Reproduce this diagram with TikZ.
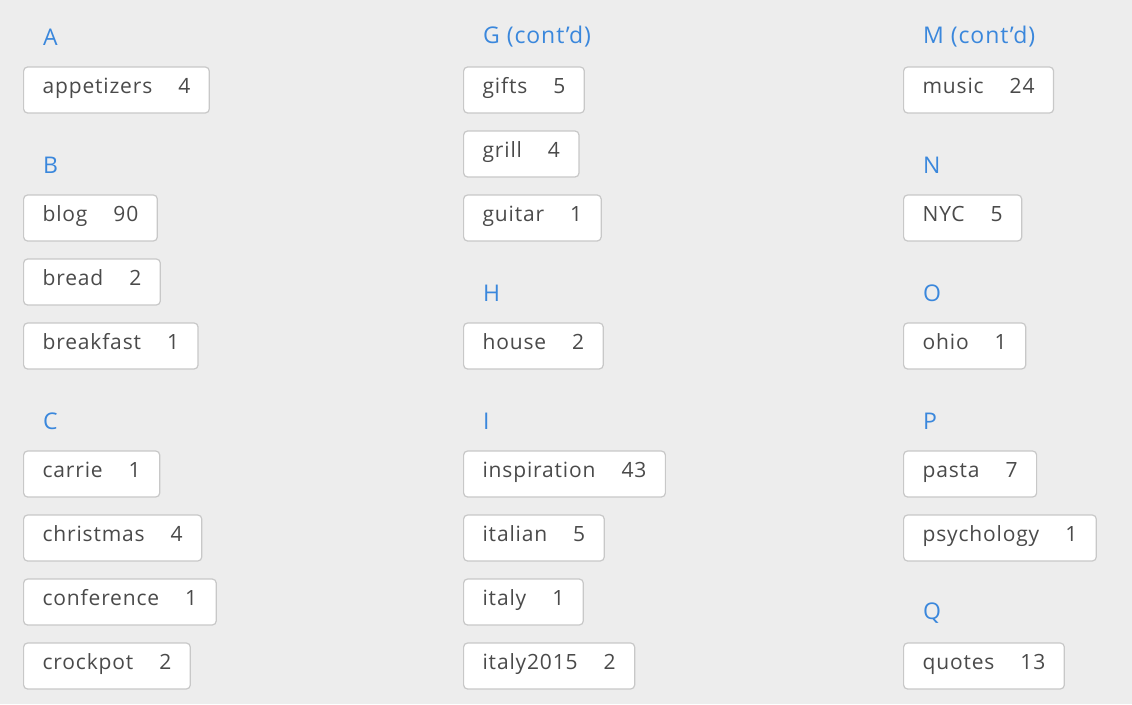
\documentclass[tikz,border=0pt]{standalone}
\usepackage{fontspec}
\setmainfont[LetterSpace=4]{Open Sans}
\definecolor{pagegray}{RGB}{237,237,237}
\definecolor{headblue}{RGB}{58,135,220}
\definecolor{tagtext}{RGB}{74,74,74}
\definecolor{tagline}{RGB}{200,200,200}
\usetikzlibrary{positioning}
\tikzset{
  letter/.style={anchor=west, text=headblue, font=\fontsize{23}{26}\selectfont, inner sep=0pt},
  tagbox/.style={anchor=west, draw=tagline, line width=1.2pt, fill=white, rounded corners=4pt,
    minimum height=46pt, inner xsep=19pt, inner ysep=0pt, text height=13pt, text depth=6pt,
    text=tagtext, font=\fontsize{21}{24}\selectfont}
}
\begin{document}
\begin{tikzpicture}[x=1pt,y=-1pt]
  \fill[pagegray] (0,0) rectangle (1132,704);
  \useasboundingbox (0,0) rectangle (1132,704);
  % Headers
  \foreach \txt/\x/\y [count=\i] in {A/43/37, B/43/165, C/43/421,
      G (cont'd)/483/37, H/483/293, I/483/421,
      M (cont'd)/923/37, N/923/165, O/923/293, P/923/421, Q/923/613}
    \node[letter] (head\i) at (\x,\y) {\txt};
  % Tags
  \foreach \name/\num/\x/\y [count=\i] in {
      appetizers/4/23/90, blog/90/23/218, bread/2/23/282, breakfast/1/23/346,
      carrie/1/23/474, christmas/4/23/538, conference/1/23/602, crockpot/2/23/666,
      gifts/5/463/90, grill/4/463/154, guitar/1/463/218, house/2/463/346,
      inspiration/43/463/474, italian/5/463/538, italy/1/463/602, italy2015/2/463/666,
      music/24/903/90, NYC/5/903/218, ohio/1/903/346, pasta/7/903/474,
      psychology/1/903/538, quotes/13/903/666}
    \node[tagbox] (tag\i) at (\x,\y) {\name\hspace{26pt}\num};
\end{tikzpicture}
\end{document}
